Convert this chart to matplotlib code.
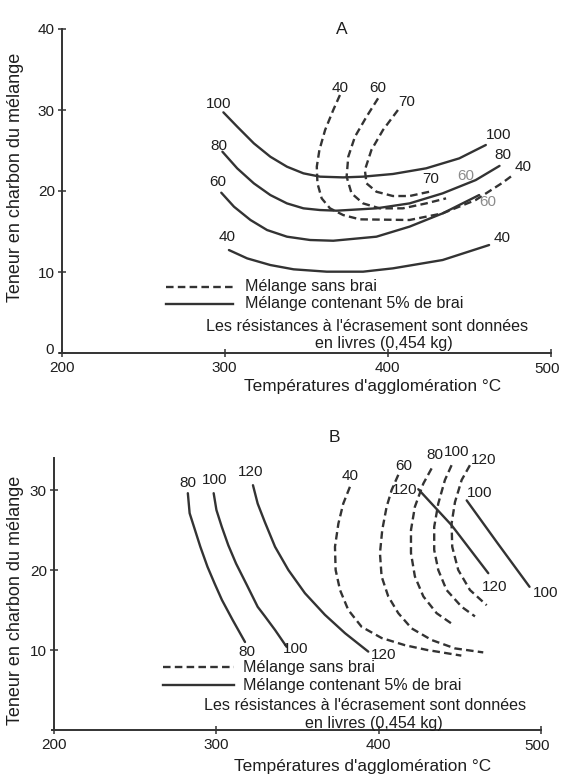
import matplotlib
matplotlib.use("Agg")
import matplotlib.pyplot as plt

plt.rcParams['font.family'] = ['Liberation Sans', 'DejaVu Sans']

# ---------------- Panel A data (temperature °C, teneur en charbon %) ----------------
# Solid curves: Mélange contenant 5% de brai
A_s100_t = [299.2, 307.7, 317.9, 328.0, 338.2, 348.3, 358.5, 372.7, 384.9, 403.2, 423.6, 443.9, 460.2]
A_s100_c = [29.71, 27.94, 25.88, 24.23, 23.0, 22.18, 21.77, 21.68, 21.77, 22.1, 22.8, 24.03, 25.68]
A_s80_t = [298.6, 307.7, 317.9, 328.0, 338.2, 348.3, 358.5, 368.7, 393.1, 413.4, 433.7, 454.0, 468.6]
A_s80_c = [24.85, 22.79, 20.94, 19.5, 18.47, 17.86, 17.65, 17.57, 17.86, 18.47, 19.71, 21.35, 23.1]
A_s60_t = [297.9, 305.7, 315.8, 326.0, 338.2, 352.4, 366.6, 393.1, 413.4, 433.7, 456.1]
A_s60_c = [19.79, 18.06, 16.42, 15.18, 14.36, 13.95, 13.86, 14.36, 15.6, 17.24, 19.5]
A_s40_t = [302.6, 313.8, 328.0, 342.3, 362.6, 384.9, 403.2, 433.7, 462.2]
A_s40_c = [12.71, 11.68, 10.86, 10.33, 10.04, 10.04, 10.45, 11.48, 13.33]
# Dashed curves: Mélange sans brai
A_d40_t = [370.7, 366.6, 361.6, 358.1, 356.5, 356.9, 359.5, 364.6, 372.7, 382.9, 413.4, 433.7, 454.0, 470.3, 477.0]
A_d40_c = [31.85, 30.0, 27.53, 25.06, 23.0, 20.94, 19.09, 17.86, 17.03, 16.5, 16.42, 17.24, 18.89, 21.0, 22.0]
A_d60_t = [394.1, 387.0, 379.9, 375.8, 374.8, 377.8, 384.9, 395.1, 409.3, 423.6, 435.8]
A_d60_c = [31.44, 29.17, 26.7, 24.23, 21.77, 19.71, 18.47, 17.86, 17.86, 18.47, 19.09]
A_d70_t = [406.3, 397.1, 390.0, 386.0, 387.0, 393.1, 403.2, 413.4, 425.6]
A_d70_c = [30.0, 27.53, 25.06, 22.59, 20.94, 19.91, 19.38, 19.38, 19.91]

A_lab_text = ["100", "80", "60", "40", "100", "80", "40", "60", "40", "70", "60", "40", "60", "70"]
A_lab_t = [296.5, 296.5, 295.5, 301.6, 468.0, 470.5, 483.0, 461.5, 470.0, 426.6, 448.0, 370.7, 394.1, 411.4]
A_lab_c = [30.8, 25.5, 21.15, 14.3, 26.9, 24.4, 23.0, 18.7, 14.2, 21.5, 21.8, 32.7, 32.7, 31.0]
A_lab_gray = [False, False, False, False, False, False, False, True, False, False, True, False, False, False]

# ---------------- Panel B data ----------------
B_s80_t = [282.6, 283.7, 287.0, 290.3, 294.7, 299.1, 303.6, 310.2, 317.8]
B_s80_c = [29.6, 27.1, 25.0, 22.9, 20.4, 18.3, 16.25, 13.75, 11.0]
B_s100_t = [298.5, 300.2, 303.5, 307.5, 312.3, 319.0, 325.6, 330.1, 336.3, 343.4]
B_s100_c = [29.6, 27.5, 25.4, 23.1, 20.8, 18.1, 15.4, 14.2, 12.5, 10.4]
B_s120_t = [322.7, 325.6, 330.0, 336.3, 344.5, 354.7, 367.0, 379.4, 393.7]
B_s120_c = [30.6, 28.3, 26.0, 22.9, 20.0, 17.1, 14.4, 12.1, 9.8]
B_s120r_t = [424.5, 445.0, 467.6]
B_s120r_c = [30.1, 25.6, 19.6]
B_s100r_t = [454.3, 473.5, 493.0]
B_s100r_c = [28.7, 23.3, 17.9]
B_d40_t = [382.4, 378.3, 375.3, 373.2, 373.6, 376.3, 381.4, 389.6, 401.9, 416.3, 430.0, 451.0]
B_d40_c = [30.4, 28.3, 25.8, 22.9, 20.0, 17.5, 15.0, 12.9, 11.5, 10.6, 10.0, 9.3]
B_d60_t = [412.2, 408.1, 405.0, 402.3, 400.9, 401.9, 406.0, 412.2, 420.4, 432.7, 447.1, 464.5]
B_d60_c = [31.9, 30.0, 27.9, 25.0, 22.1, 19.2, 16.7, 14.6, 12.7, 11.25, 10.2, 9.7]
B_d80_t = [432.7, 427.6, 422.4, 420.0, 420.0, 422.4, 427.6, 435.8, 445.0]
B_d80_c = [32.7, 30.8, 27.9, 25.0, 22.1, 19.2, 16.7, 14.6, 13.3]
B_d100_t = [445.0, 440.9, 436.8, 434.3, 434.3, 436.8, 441.9, 451.2, 459.4]
B_d100_c = [33.1, 31.25, 28.3, 25.4, 22.5, 20.0, 17.5, 15.4, 14.2]
B_d120_t = [456.3, 451.2, 447.1, 445.0, 445.4, 449.1, 456.3, 466.6]
B_d120_c = [33.1, 31.25, 28.5, 25.8, 22.9, 20.0, 17.5, 15.6]

B_lab_text = ["80", "100", "120", "80", "100", "120", "40", "60", "80", "100", "120",
              "120", "120", "100", "100"]
B_lab_t = [282.6, 299.0, 321.0, 319.0, 349.0, 403.0, 382.4, 415.5, 434.8, 448.1, 464.5,
           416.3, 471.7, 462.5, 502.9]
B_lab_c = [30.9, 31.3, 32.2, 9.8, 10.1, 9.4, 31.7, 33.0, 34.4, 34.7, 33.75,
           30.0, 17.9, 29.6, 17.1]

TICKS_X = [200, 300, 400, 500]
TICK_LABELS_X = ["200", "300", "400", "500"]
LINE_C = "#333333"
TXT_C = "#1e1e1e"
GRAY_C = "#8c8c8c"
DASH = (0, (3.2, 1.8))
LW = 1.7
LEG_FS = 11.6

W, H = 561, 775
fig = plt.figure(figsize=(W / 100, H / 100), dpi=100)


def make_axes(x200_px, ppx, y0_px, ppy, xlim, ymax):
    left = x200_px - (200 - xlim[0]) * ppx
    width = (xlim[1] - xlim[0]) * ppx
    height = ymax * ppy
    ax = fig.add_axes([left / W, (H - y0_px) / H, width / W, height / H])
    ax.set_xlim(*xlim)
    ax.set_ylim(0, ymax)
    return ax


def style(ax, yticks, ylabels, ytop):
    for s in ["top", "right"]:
        ax.spines[s].set_visible(False)
    ax.spines["left"].set_position(("data", 200))
    ax.spines["left"].set_bounds(0, ytop)
    ax.spines["bottom"].set_bounds(199, 500)
    for s in ["left", "bottom"]:
        ax.spines[s].set_color(LINE_C)
        ax.spines[s].set_linewidth(1.4)
    # last x label ("500") drawn separately so it is not cut at the right edge
    ax.set_xticks(TICKS_X, TICK_LABELS_X[:-1] + [""])
    ax.annotate(TICK_LABELS_X[-1], xy=(TICKS_X[-1], 0), xytext=(-4, -16),
                textcoords="offset pixels", ha="center", va="center",
                fontsize=11, color=TXT_C, annotation_clip=False)
    ax.set_yticks(yticks, ylabels)
    ax.tick_params(direction="inout", length=6, width=1.1, colors=LINE_C,
                   labelcolor=TXT_C, labelsize=11)
    ax.tick_params(axis="x", pad=2.5)
    ax.tick_params(axis="y", pad=2)
    ax.patch.set_alpha(0)


def plot_set(ax, solids, dashes):
    for t, c in solids:
        ax.plot(t, c, color=LINE_C, lw=LW, solid_capstyle="round", solid_joinstyle="round")
    for t, c in dashes:
        ax.plot(t, c, color=LINE_C, lw=LW, linestyle=DASH)


def legend_block(ax, x0, x1, xt, yd, ys, xc3, y3, xc4, y4):
    ax.plot([x0, x1], [yd, yd], color=LINE_C, lw=LW, linestyle=DASH)
    ax.plot([x0, x1], [ys, ys], color=LINE_C, lw=LW)
    kw = dict(fontsize=LEG_FS, color=TXT_C, va="center")
    ax.text(xt, yd, "Mélange sans brai", ha="left", **kw)
    ax.text(xt, ys, "Mélange contenant 5% de brai", ha="left", **kw)
    ax.text(xc3, y3, "Les résistances à l'écrasement sont données", ha="center", **kw)
    ax.text(xc4, y4, "en livres (0,454 kg)", ha="center", **kw)


# ---------------- Panel A ----------------
axA = make_axes(61.7, 1.63, 353, 8.1, (195, 503), 42)
style(axA, [0, 10, 20, 30, 40], ["", "10", "20", "30", "40"], 40)
axA.annotate("0", xy=(200, 0), xytext=(-8, 3), textcoords="offset pixels",
             ha="right", va="center", fontsize=11, color=TXT_C)
plot_set(axA,
         [(A_s100_t, A_s100_c), (A_s80_t, A_s80_c), (A_s60_t, A_s60_c), (A_s40_t, A_s40_c)],
         [(A_d40_t, A_d40_c), (A_d60_t, A_d60_c), (A_d70_t, A_d70_c)])
for lab, x, y, g in zip(A_lab_text, A_lab_t, A_lab_c, A_lab_gray):
    axA.text(x, y, lab, fontsize=11, color=GRAY_C if g else TXT_C, ha="center", va="center")
axA.text(371.8, 39.9, "A", fontsize=12.5, color=TXT_C, ha="center", va="center")
legend_block(axA, 263.7, 305.1, 312.7, 8.19, 6.05, 387.6, 3.25, 397.4, 1.2)

# ---------------- Panel B ----------------
axB = make_axes(53.7, 1.624, 730, 8.0, (195, 505), 38)
style(axB, [10, 20, 30], ["10", "20", "30"], 34)
plot_set(axB,
         [(B_s80_t, B_s80_c), (B_s100_t, B_s100_c), (B_s120_t, B_s120_c),
          (B_s120r_t, B_s120r_c), (B_s100r_t, B_s100r_c)],
         [(B_d40_t, B_d40_c), (B_d60_t, B_d60_c), (B_d80_t, B_d80_c),
          (B_d100_t, B_d100_c), (B_d120_t, B_d120_c)])
for lab, x, y in zip(B_lab_text, B_lab_t, B_lab_c):
    axB.text(x, y, lab, fontsize=11, color=TXT_C, ha="center", va="center")
axB.text(372.9, 36.5, "B", fontsize=12.5, color=TXT_C, ha="center", va="center")
legend_block(axB, 267.2, 311.2, 316.7, 7.84, 5.6, 391.6, 3.1, 397.2, 0.83)

# ---------------- axis titles ----------------
for xc, yc in [(372.5, 386), (362.3, 767)]:
    fig.text(xc / W, 1 - yc / H, "Températures d'agglomération °C", fontsize=12.4,
             color=TXT_C, ha="center", va="center")
for yc in [177, 600]:
    fig.text(16 / W, 1 - yc / H, "Teneur en charbon du mélange", fontsize=13,
             color=TXT_C, ha="center", va="center", rotation=90)

fig.savefig("out.png", dpi=100)
